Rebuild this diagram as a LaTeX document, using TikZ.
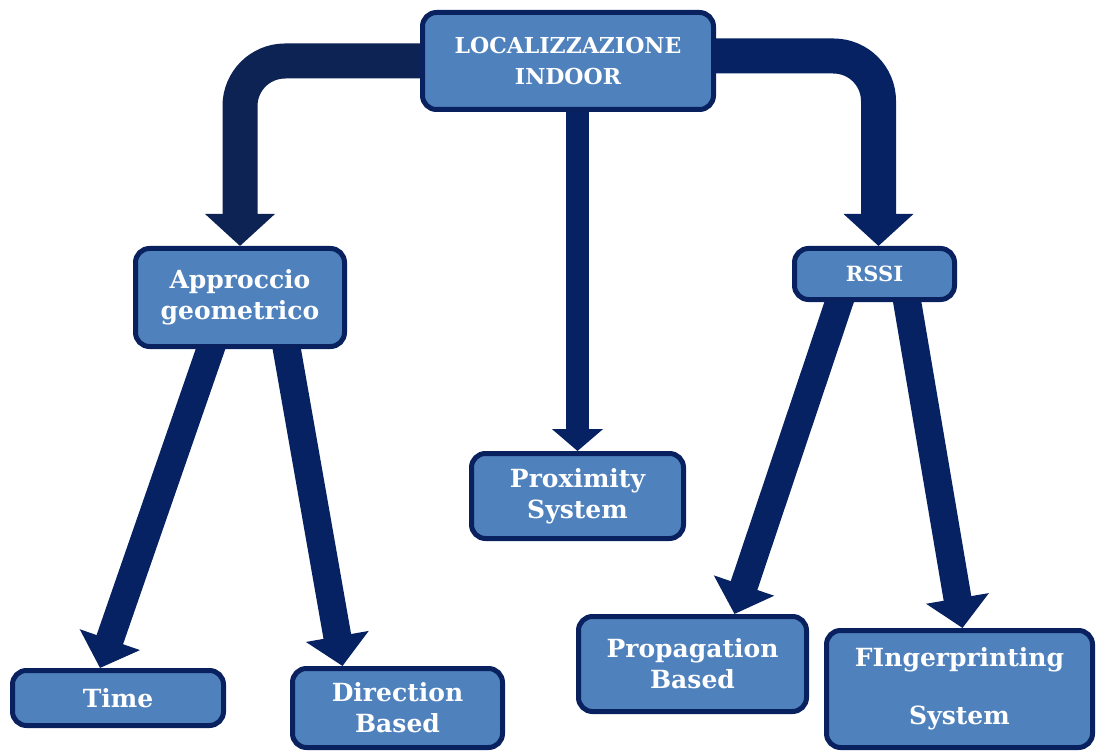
\documentclass[tikz,border=0pt]{standalone}
\usepackage{fontspec}
\usetikzlibrary{arrows.meta}
\newfontfamily\boxfont{DejaVu Serif}
\definecolor{boxfill}{HTML}{4F81BD}
\definecolor{bord}{HTML}{0A2160}
\definecolor{arrL}{HTML}{0D2354}
\definecolor{arrC}{HTML}{062262}
\pgfdeclarelayer{bg}
\pgfsetlayers{bg,main}
\tikzset{
  box/.style={draw=bord, fill=boxfill, line width=5pt, rounded corners=14pt,
    text=white, align=center, inner sep=0pt,
    font=\boxfont\bfseries\fontsize{25}{31}\selectfont},
  bigarrow/.style={draw=#1, line width=35pt, rounded corners=45pt,
    -{Triangle[width=68pt,length=32pt]}},
  midarrow/.style={draw=arrC, line width=23pt,
    -{Triangle[width=50pt,length=22pt]}},
  diagarrow/.style={draw=arrC, line width=28pt,
    -{Triangle[width=62pt,length=30pt]}}
}
\begin{document}
\begin{tikzpicture}[x=1pt,y=-1pt]
\clip (0,0) rectangle (1097,751);
\node[box, minimum width=291pt, minimum height=97pt,
  font=\boxfont\bfseries\fontsize{22}{31}\selectfont] (top) at (568,61) {LOCALIZZAZIONE\\INDOOR};
\node[box, minimum width=209pt, minimum height=98pt] (geo) at (240,297.5) {Approccio\\geometrico};
\node[box, minimum width=160pt, minimum height=51pt,
  font=\boxfont\bfseries\fontsize{21}{30}\selectfont] (rssi) at (874.5,274) {RSSI};
\node[box, minimum width=212pt, minimum height=85pt] (prox) at (577.5,496) {Proximity\\System};
\node[box, minimum width=211pt, minimum height=55pt] (time) at (118,698) {Time};
\node[box, minimum width=210pt, minimum height=79pt] (dir) at (397.5,708) {Direction\\Based};
\node[box, minimum width=228pt, minimum height=95pt] (prop) at (692.5,664) {Propagation\\Based};
\node[box, minimum width=266pt, minimum height=117pt] (fing) at (959.5,689) {FIngerprinting\\[27pt]System};
\begin{pgfonlayer}{bg}
\fill[white] (0,0) rectangle (1097,751);
\draw[bigarrow=arrL] ([xshift=10pt]top.west) -| (geo.north);
\draw[bigarrow=arrC] ([xshift=-10pt,yshift=5pt]top.east) -| ([xshift=4pt]rssi.north);
\draw[midarrow] ([yshift=10pt]top.south -| prox.north) -- (prox.north);
\draw[diagarrow] ([xshift=-26pt,yshift=10pt]geo.south) -- ([xshift=-18pt]time.north);
\draw[diagarrow] ([xshift=45pt,yshift=10pt]geo.south) -- ([xshift=-55pt]dir.north);
\draw[diagarrow] ([xshift=-32pt,yshift=10pt]rssi.south) -- ([xshift=42pt]prop.north);
\draw[diagarrow] ([xshift=31pt,yshift=10pt]rssi.south) -- ([xshift=3pt]fing.north);
\end{pgfonlayer}
\end{tikzpicture}
\end{document}
